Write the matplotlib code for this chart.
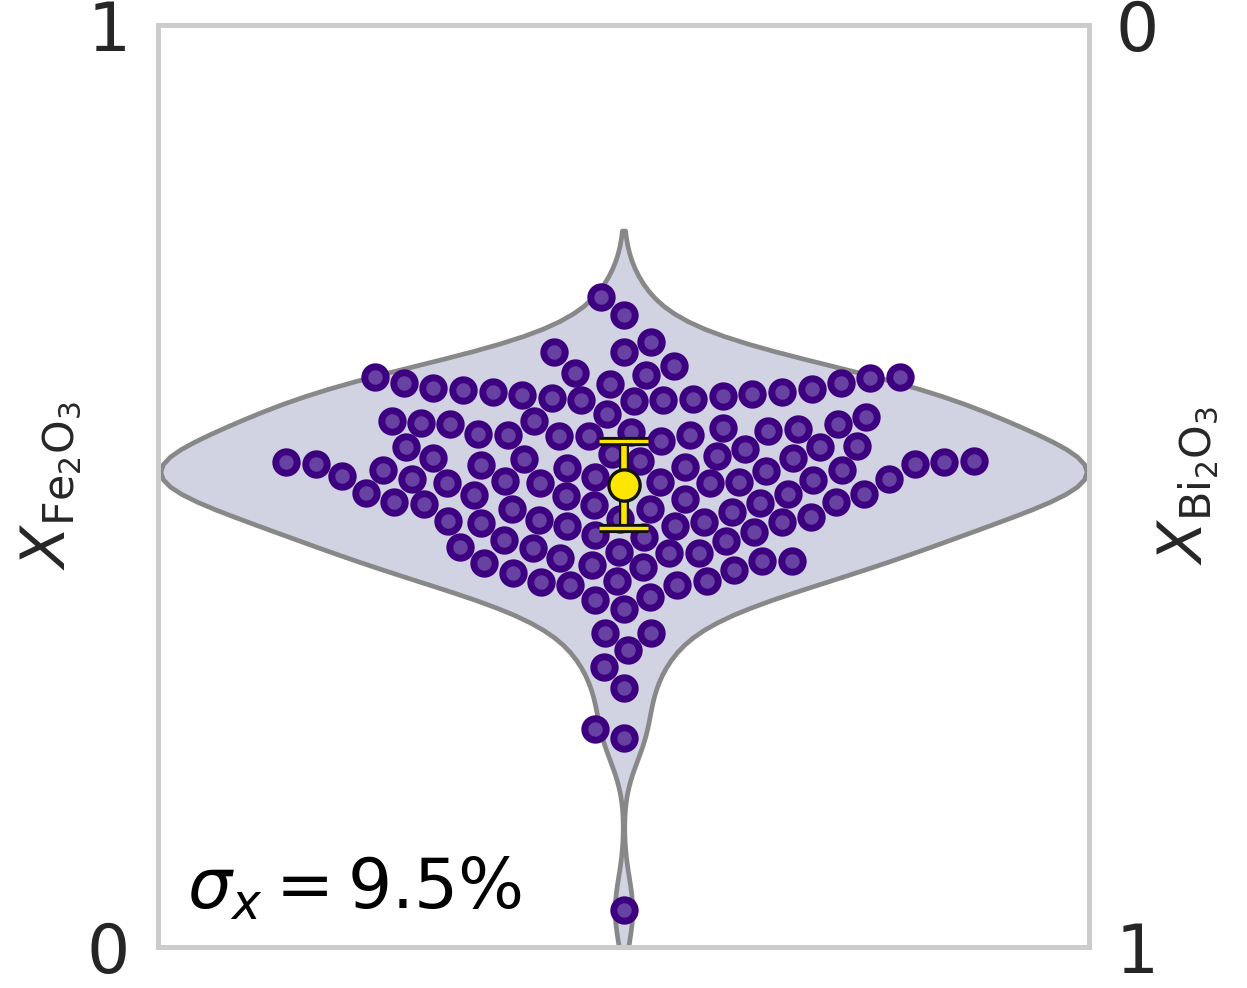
import numpy as np
import matplotlib
matplotlib.use("Agg")
import matplotlib.pyplot as plt
import matplotlib.patheffects as pe
import seaborn as sns

# Fe2O3 mole fractions
x_fe2o3 = [
    0.705, 0.685, 0.656, 0.645, 0.645, 0.630, 0.623, 0.618, 0.618, 0.612,
    0.612, 0.611, 0.605, 0.602, 0.602, 0.600, 0.599, 0.598, 0.595, 0.594,
    0.593, 0.593, 0.592, 0.604, 0.606, 0.617, 0.620, 0.575, 0.570, 0.570,
    0.560, 0.568, 0.543, 0.555, 0.555, 0.554, 0.554, 0.562, 0.540, 0.567,
    0.567, 0.578, 0.549, 0.542, 0.542, 0.559, 0.556, 0.563, 0.527, 0.527,
    0.520, 0.533, 0.524, 0.524, 0.530, 0.530, 0.517, 0.529, 0.523, 0.521,
    0.535, 0.526, 0.526, 0.503, 0.503, 0.503, 0.516, 0.504, 0.504, 0.483,
    0.480, 0.492, 0.491, 0.491, 0.507, 0.510, 0.508, 0.508, 0.464, 0.462,
    0.461, 0.461, 0.482, 0.486, 0.479, 0.450, 0.460, 0.457, 0.457, 0.447,
    0.434, 0.419, 0.419, 0.416, 0.428, 0.422, 0.414, 0.397, 0.397, 0.396,
    0.393, 0.393, 0.376, 0.341, 0.341, 0.505, 0.502, 0.511, 0.517, 0.489,
    0.490, 0.475, 0.475, 0.466, 0.463, 0.483, 0.445, 0.427, 0.427, 0.441,
    0.433, 0.412, 0.406, 0.409, 0.380, 0.367, 0.322, 0.304, 0.281, 0.236,
    0.227, 0.040, 0.472, 0.440,
]
mean_err = 0.047
sigma_label = r"$\sigma_x = 9.5\%$"
left_label = r"$X_{\mathrm{Fe_2O_3}}$"
right_label = r"$X_{\mathrm{Bi_2O_3}}$"
left_ticks = [0, 1]
right_ticks = [0, 1]

sns.set_style("white")
plt.rcParams["font.family"] = ["DejaVu Sans"]

fig = plt.figure(figsize=(12.47, 9.88), dpi=100)
ax = fig.add_axes([0.1267, 0.0415, 0.7466, 0.9332])

data = np.array(x_fe2o3)
sns.violinplot(y=data, ax=ax, color="#d1d3e3", saturation=1, inner=None,
               linewidth=3.4, linecolor="#888888", width=0.995, cut=2)
sns.swarmplot(y=data, ax=ax, color="#6842a2", edgecolor="#3c0080",
              linewidth=5.0, size=15.4, zorder=3)

mean = data.mean()
eb = ax.errorbar(0, mean, yerr=mean_err, fmt="o", color="#ffe600",
                 ecolor="#ffe600", mec="#111111", mew=2.4, ms=22.5,
                 elinewidth=4.0, capsize=17.5, capthick=3.6, zorder=10)
stroke = [pe.Stroke(linewidth=7.2, foreground="#111111"), pe.Normal()]
for cl in eb[1]:
    cl.set_path_effects([pe.Stroke(linewidth=6.6, foreground="#111111"), pe.Normal()])
for lc in eb[2]:
    lc.set_path_effects(stroke)

ax.set_xlim(-0.5, 0.5)
ax.set_ylim(0, 1)
ax.set_xticks([])
ax.set_yticks(left_ticks)
ax.set_yticklabels([str(t) for t in left_ticks])
ax.tick_params(axis="y", labelsize=49, pad=20, length=0, colors="#262626")
ax.set_ylabel(left_label, fontsize=44, color="#262626")
ax.yaxis.set_label_coords(-0.079, 0.5)
for s in ax.spines.values():
    s.set_color("#cccccc")
    s.set_linewidth(3.4)

ax2 = ax.twinx()
ax2.set_ylim(1, 0)
ax2.set_yticks(right_ticks)
ax2.set_yticklabels([str(t) for t in right_ticks])
ax2.tick_params(axis="y", labelsize=49, pad=19, length=0, colors="#262626")
ax2.set_ylabel(right_label, fontsize=44, color="#262626")
ax2.yaxis.set_label_coords(1.072, 0.5)
for s in ax2.spines.values():
    s.set_color("#cccccc")
    s.set_linewidth(3.4)

ax.text(0.031, 0.042, sigma_label, transform=ax.transAxes, fontsize=50,
        color="black", ha="left", va="baseline", zorder=12)

fig.savefig("out.png", dpi=100)
